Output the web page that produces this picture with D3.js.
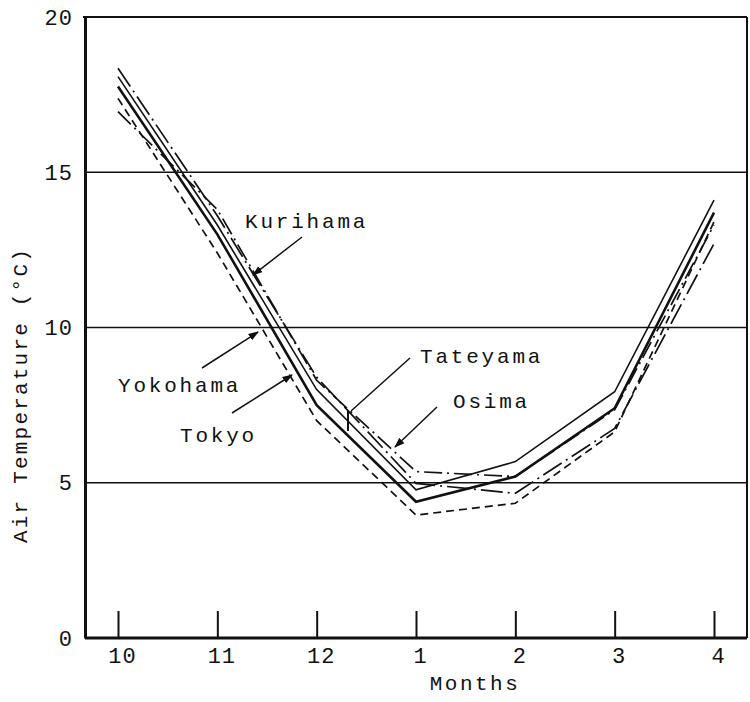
<!DOCTYPE html>
<html>
<head>
<meta charset="utf-8">
<script src="https://cdn.jsdelivr.net/npm/d3@7"></script>
<style>
    body { margin: 0; background: #fff; }
    text { font-family: "Liberation Mono", "DejaVu Sans Mono", monospace; fill: #111; }
</style>
</head>
<body>
<div id="chart"></div>
<script>
let months = ['10', '11', '12', '1', '2', '3', '4'];
let yTicks = [0, 5, 10, 15, 20];

let kurihama = [18.35, 13.6, 8.4, 4.98, 4.66, 6.75, 12.7];
let osima = [16.95, 13.8, 8.3, 5.36, 5.2, 7.35, 13.3];
let tateyama = [18.08, 13.3, 8.0, 4.77, 5.68, 7.93, 14.1];
let tokyo = [17.76, 13.0, 7.5, 4.39, 5.2, 7.4, 13.7];
let yokohama = [17.38, 12.4, 7.0, 3.96, 4.34, 6.64, 13.4];

let width = 750, height = 702;
let plotLeft = 85, plotRight = 747, plotTop = 17, plotBottom = 638;

let svg = d3.select('#chart')
    .append('svg')
    .attr('width', width)
    .attr('height', height);

let x = d3.scalePoint()
    .domain(months)
    .range([118, 714]);

let y = d3.scaleLinear()
    .domain([0, 20])
    .range([plotBottom, plotTop]);

// arrow head for the label pointers
svg.append('defs')
    .append('marker')
    .attr('id', 'arrow')
    .attr('viewBox', '0 0 10 10')
    .attr('refX', 9)
    .attr('refY', 5)
    .attr('markerWidth', 7)
    .attr('markerHeight', 7)
    .attr('orient', 'auto')
    .append('path')
    .attr('d', 'M0,1.5 L10,5 L0,8.5 Z')
    .attr('fill', '#111');

// horizontal grid lines at 5, 10, 15
svg.append('g')
    .selectAll('line')
    .data(yTicks.filter(d => d > 0 && d < 20))
    .join('line')
    .attr('x1', plotLeft)
    .attr('x2', plotRight)
    .attr('y1', d => y(d))
    .attr('y2', d => y(d))
    .attr('stroke', '#111')
    .attr('stroke-width', 1.5);

// frame
svg.append('line').attr('x1', plotLeft - 2).attr('x2', plotRight).attr('y1', plotTop).attr('y2', plotTop)
    .attr('stroke', '#111').attr('stroke-width', 2);
svg.append('line').attr('x1', plotRight).attr('x2', plotRight).attr('y1', plotTop).attr('y2', plotBottom)
    .attr('stroke', '#111').attr('stroke-width', 2);

// left axis
svg.append('g')
    .attr('transform', `translate(${plotLeft},0)`)
    .call(d3.axisLeft(y).tickValues(yTicks).tickSize(0).tickPadding(12))
    .call(g => g.select('.domain').attr('stroke', '#111').attr('stroke-width', 3))
    .call(g => g.selectAll('text')
        .attr('font-family', '"Liberation Mono", monospace')
        .attr('font-size', 22)
        .attr('letter-spacing', 1)
        .attr('fill', '#111'));

// bottom axis, ticks point up into the chart
svg.append('g')
    .attr('transform', `translate(0,${plotBottom})`)
    .call(d3.axisBottom(x).tickSize(-27).tickPadding(0))
    .call(g => g.select('.domain').attr('d', `M${plotLeft},0H${plotRight}`)
        .attr('stroke', '#111').attr('stroke-width', 3))
    .call(g => g.selectAll('.tick line').attr('stroke', '#111').attr('stroke-width', 2))
    .call(g => g.selectAll('text')
        .attr('y', 25)
        .attr('dy', 0)
        .attr('dx', 4)
        .attr('font-family', '"Liberation Mono", monospace')
        .attr('font-size', 22)
        .attr('letter-spacing', 1)
        .attr('fill', '#111'));

// axis titles
svg.append('text')
    .attr('x', 475)
    .attr('y', 690)
    .attr('text-anchor', 'middle')
    .attr('font-size', 21)
    .attr('letter-spacing', 2.5)
    .text('Months');

svg.append('text')
    .attr('transform', 'translate(27,395) rotate(-90)')
    .attr('text-anchor', 'middle')
    .attr('font-size', 21)
    .attr('letter-spacing', 2.2)
    .text('Air Temperature (°C)');

// the five stations
let stations = [
    {name: 'Kurihama', values: kurihama, dash: '22,5,2,5', w: 1.7},
    {name: 'Osima', values: osima, dash: '18,5,2,5', w: 1.7},
    {name: 'Tateyama', values: tateyama, dash: null, w: 1.6},
    {name: 'Tokyo', values: tokyo, dash: null, w: 2.6},
    {name: 'Yokohama', values: yokohama, dash: '8,5', w: 1.7}
];

let line = d3.line()
    .x((d, i) => x(months[i]))
    .y(d => y(d));

svg.append('g')
    .selectAll('path')
    .data(stations)
    .join('path')
    .attr('d', d => line(d.values))
    .attr('fill', 'none')
    .attr('stroke', '#111')
    .attr('stroke-width', d => d.w)
    .attr('stroke-dasharray', d => d.dash);

// labels with pointer lines
let labels = [
    {text: 'Kurihama', x: 245, y: 228, from: [302, 237], to: [253, 275]},
    {text: 'Yokohama', x: 118, y: 392, from: [202, 368], to: [258, 332]},
    {text: 'Tokyo', x: 180, y: 442, from: [232, 413], to: [292, 375]},
    {text: 'Tateyama', x: 420, y: 363, from: [410, 358], to: [351, 411]},
    {text: 'Osima', x: 453, y: 408, from: [437, 407], to: [395, 447]}
];

svg.append('g')
    .selectAll('text')
    .data(labels)
    .join('text')
    .attr('x', d => d.x)
    .attr('y', d => d.y)
    .attr('font-size', 21)
    .attr('letter-spacing', 2.8)
    .text(d => d.text);

svg.append('g')
    .selectAll('line')
    .data(labels.filter(d => d.text !== 'Tateyama'))
    .join('line')
    .attr('x1', d => d.from[0])
    .attr('y1', d => d.from[1])
    .attr('x2', d => d.to[0])
    .attr('y2', d => d.to[1])
    .attr('stroke', '#111')
    .attr('stroke-width', 1.5)
    .attr('marker-end', 'url(#arrow)');

// Tateyama pointer ends on a small bar between two lines
let tat = labels.find(d => d.text === 'Tateyama');
svg.append('line')
    .attr('x1', tat.from[0]).attr('y1', tat.from[1])
    .attr('x2', tat.to[0]).attr('y2', tat.to[1])
    .attr('stroke', '#111').attr('stroke-width', 1.5);
svg.append('line')
    .attr('x1', tat.to[0] - 3).attr('y1', tat.to[1])
    .attr('x2', tat.to[0] - 3).attr('y2', tat.to[1] + 20)
    .attr('stroke', '#111').attr('stroke-width', 2);
</script>
</body>
</html>
